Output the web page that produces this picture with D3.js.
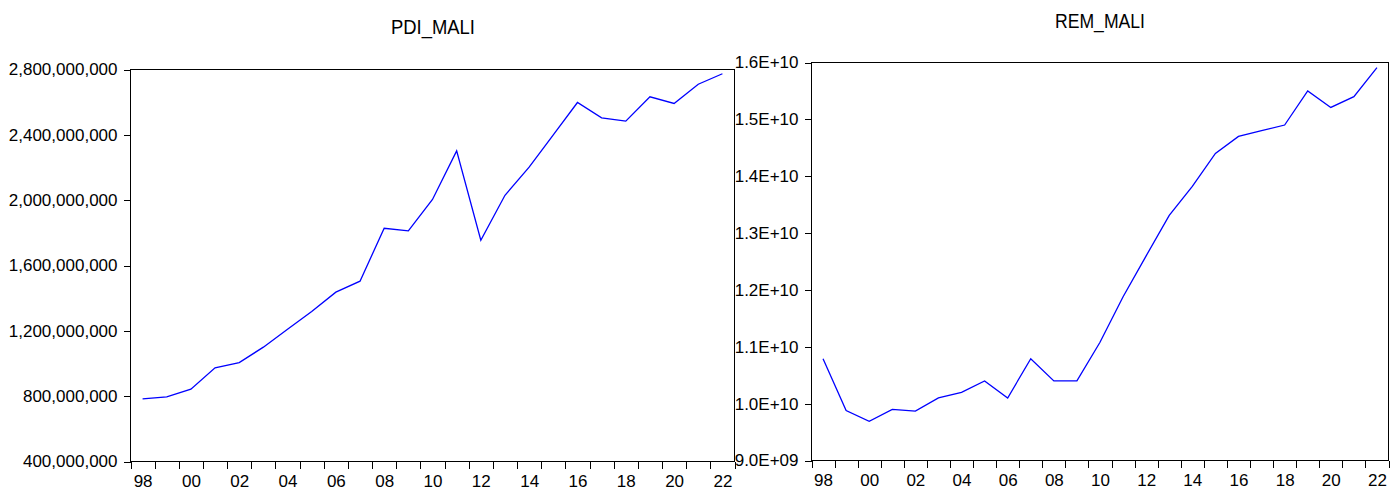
<!DOCTYPE html>
<html>
<head>
<meta charset="utf-8">
<script src="https://cdn.jsdelivr.net/npm/d3@7"></script>
<style>
  html, body { margin: 0; padding: 0; background: #fff; }
  svg { display: block; }
  text { font-family: "Liberation Sans", Arial, sans-serif; fill: #000; }
</style>
</head>
<body>
<svg id="chart" width="1397" height="488"></svg>
<script>
// Annual observations, 1998-2022
const years = d3.range(1998, 2023);

const pdiMali = [
  784e6, 796e6, 843e6, 974e6, 1006e6, 1100e6, 1210e6, 1318e6, 1437e6, 1504e6,
  1828e6, 1812e6, 2004e6, 2302e6, 1755e6, 2030e6, 2202e6, 2400e6, 2598e6,
  2504e6, 2484e6, 2633e6, 2592e6, 2710e6, 2774e6
];

const remMali = [
  10.79e9, 9.88e9, 9.69e9, 9.90e9, 9.87e9, 10.10e9, 10.20e9, 10.40e9, 10.10e9,
  10.79e9, 10.40e9, 10.40e9, 11.08e9, 11.88e9, 12.60e9, 13.31e9, 13.82e9,
  14.40e9, 14.70e9, 14.80e9, 14.90e9, 15.50e9, 15.21e9, 15.40e9, 15.91e9
];

const pdiTicks = [400e6, 800e6, 1200e6, 1600e6, 2000e6, 2400e6, 2800e6];
const remTicks = [9e9, 10e9, 11e9, 12e9, 13e9, 14e9, 15e9, 16e9];
const yearLabels = years.filter(y => y % 2 === 0);

const svg = d3.select("#chart");

// Scientific notation with an upper-case E and a two-digit exponent
function sciFormat(v) {
  const s = d3.format(".1e")(v);           // e.g. "9.0e+9"
  const [m, e] = s.split("e");
  const sign = e[0];
  const digits = e.slice(1).padStart(2, "0");
  return m + "E" + sign + digits;
}

function panel(opts) {
  const { left, top, right, bottom, values, ticks, domain, fmt, title, titleX, titleY, titleLen } = opts;
  const g = svg.append("g");

  const x = d3.scaleLinear().domain([1998, 2023]).range([left, right]);
  const y = d3.scaleLinear().domain(domain).range([bottom, top]);

  // Title
  g.append("text")
    .attr("x", titleX).attr("y", titleY)
    .attr("text-anchor", "middle")
    .attr("font-size", 20)
    .attr("textLength", titleLen)
    .attr("lengthAdjust", "spacingAndGlyphs")
    .text(title);

  // Y axis ticks and labels
  const yAxis = d3.axisLeft(y).tickValues(ticks).tickFormat(fmt).tickSize(7).tickPadding(6);
  const ya = g.append("g").attr("transform", `translate(${left},0)`).call(yAxis);
  ya.select(".domain").remove();
  ya.selectAll("line").attr("stroke", "#000").attr("shape-rendering", "crispEdges");
  ya.selectAll("text").attr("font-size", 17).attr("font-family", "Liberation Sans, Arial, sans-serif");

  // X axis: tick marks on year boundaries
  const xTickAxis = d3.axisBottom(x).tickValues(d3.range(1998, 2024)).tickFormat("").tickSize(7);
  const xt = g.append("g").attr("transform", `translate(0,${bottom})`).call(xTickAxis);
  xt.select(".domain").remove();
  xt.selectAll("line").attr("stroke", "#000").attr("shape-rendering", "crispEdges");

  // X axis: two-digit year labels centred in their year interval
  const xLabelAxis = d3.axisBottom(x)
    .tickValues(yearLabels.map(v => v + 0.5))
    .tickFormat(v => String(Math.floor(v) % 100).padStart(2, "0"))
    .tickSize(0).tickPadding(13);
  const xl = g.append("g").attr("transform", `translate(0,${bottom})`).call(xLabelAxis);
  xl.select(".domain").remove();
  xl.selectAll("text").attr("font-size", 17).attr("font-family", "Liberation Sans, Arial, sans-serif");

  // Frame
  g.append("rect")
    .attr("x", left).attr("y", top)
    .attr("width", right - left).attr("height", bottom - top)
    .attr("fill", "none").attr("stroke", "#000").attr("stroke-width", 1.2)
    .attr("shape-rendering", "crispEdges");

  // Series line, one point per year at the middle of the interval
  const line = d3.line()
    .x((d, i) => x(years[i] + 0.5))
    .y(d => y(d));
  g.append("path")
    .datum(values)
    .attr("fill", "none")
    .attr("stroke", "#0000ff")
    .attr("stroke-width", 1.3)
    .attr("d", line);
}

panel({
  left: 130.5, top: 69.5, right: 734.5, bottom: 461.5,
  values: pdiMali, ticks: pdiTicks, domain: [400e6, 2800e6],
  fmt: d3.format(","),
  title: "PDI_MALI", titleX: 433, titleY: 34, titleLen: 84
});

panel({
  left: 811.5, top: 62.5, right: 1388.5, bottom: 460.5,
  values: remMali, ticks: remTicks, domain: [9e9, 16e9],
  fmt: sciFormat,
  title: "REM_MALI", titleX: 1100, titleY: 28, titleLen: 90
});
</script>
</body>
</html>
